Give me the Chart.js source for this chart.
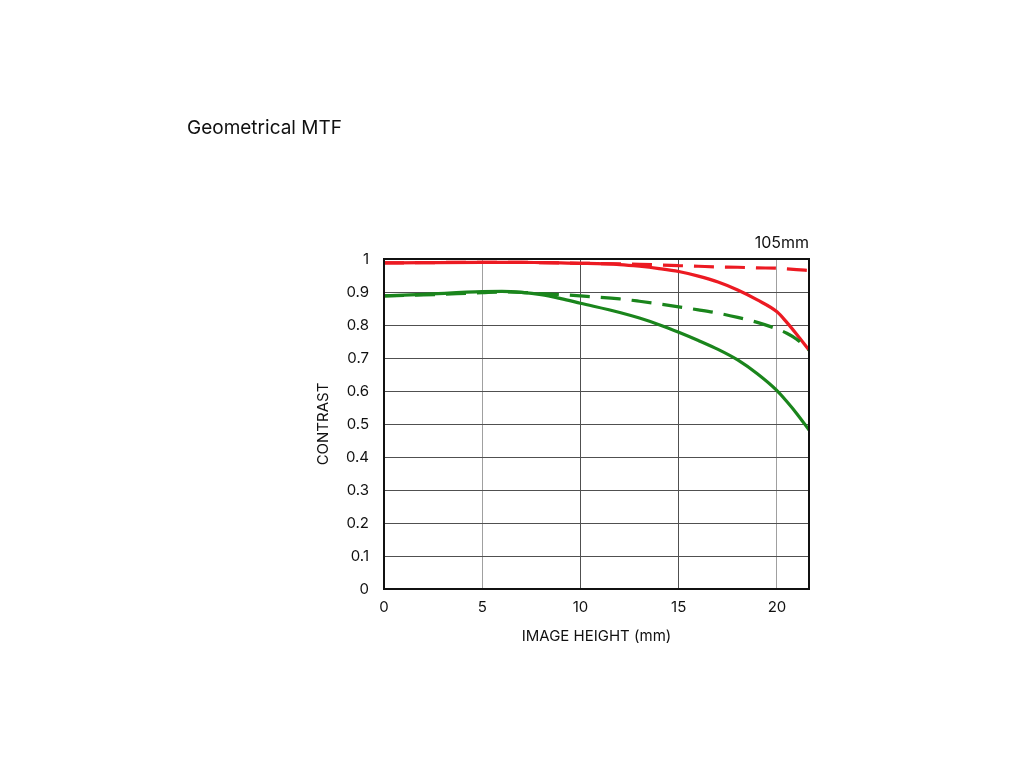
<!DOCTYPE html>
<html>
<head>
<meta charset="utf-8">
<script src="https://cdn.jsdelivr.net/npm/chart.js@4/dist/chart.umd.min.js"></script>
<style>
  html, body { margin: 0; padding: 0; background: #fff; }
  #wrap { width: 1024px; height: 768px; position: relative; }
</style>
</head>
<body>
<div id="wrap"><canvas id="mtf" width="1024" height="768"></canvas></div>
<script>
/* ── DATA ─────────────────────────────────────────────────── */
const imageHeight = [0, 2, 5, 6, 7, 8, 9, 10, 12, 13, 14, 15, 16, 17, 18, 19, 20, 20.5, 21, 21.63];

// 10 lp/mm (red) and 30 lp/mm (green), sagittal solid / meridional dashed
const red10Sag = [0.988, 0.989, 0.990, 0.990, 0.990, 0.989, 0.988, 0.987, 0.983, 0.978, 0.971, 0.962, 0.948, 0.930, 0.906, 0.876, 0.840, 0.808, 0.772, 0.724];
const red10Mer = [0.988, 0.989, 0.990, 0.990, 0.990, 0.989, 0.988, 0.987, 0.985, 0.984, 0.982, 0.980, 0.978, 0.976, 0.975, 0.973, 0.972, 0.970, 0.968, 0.965];
const grn30Sag = [0.888, 0.893, 0.901, 0.902, 0.899, 0.892, 0.880, 0.866, 0.838, 0.821, 0.801, 0.778, 0.753, 0.726, 0.694, 0.652, 0.601, 0.568, 0.532, 0.482];
const grn30Mer = [0.888, 0.891, 0.898, 0.900, 0.899, 0.895, 0.892, 0.888, 0.879, 0.872, 0.864, 0.855, 0.846, 0.836, 0.823, 0.808, 0.788, 0.775, 0.757, 0.724];

const xTicks = [0, 5, 10, 15, 20];
const yTicks = [0, 0.1, 0.2, 0.3, 0.4, 0.5, 0.6, 0.7, 0.8, 0.9, 1];

const RED = '#ec1a22';
const GREEN = '#1a851c';
const FONT = 'Inter, "Liberation Sans", sans-serif';

function series(ys) {
  return imageHeight.map((x, i) => ({ x, y: ys[i] }));
}

/* ── PLUGINS ──────────────────────────────────────────────── */
const frameAndLabels = {
  id: 'frameAndLabels',
  afterDraw(chart) {
    const { ctx, chartArea: a } = chart;
    ctx.save();
    ctx.strokeStyle = '#111';
    ctx.lineWidth = 2;
    ctx.strokeRect(a.left, a.top, a.right - a.left, a.bottom - a.top);

    ctx.fillStyle = '#111';
    ctx.font = '16px ' + FONT;
    ctx.textAlign = 'right';
    ctx.textBaseline = 'alphabetic';
    ctx.fillText('105mm', a.right, a.top - 11);

    ctx.font = '19px ' + FONT;
    ctx.textAlign = 'left';
    ctx.fillText('Geometrical MTF', 187, 134);
    ctx.restore();
  }
};

/* ── CHART ────────────────────────────────────────────────── */
new Chart(document.getElementById('mtf'), {
  type: 'line',
  data: {
    datasets: [
      { data: series(grn30Mer), borderColor: GREEN, borderDash: [20, 11] },
      { data: series(grn30Sag), borderColor: GREEN },
      { data: series(red10Mer), borderColor: RED, borderDash: [20, 11] },
      { data: series(red10Sag), borderColor: RED }
    ].map(d => ({ ...d, borderWidth: 3.2, pointRadius: 0, cubicInterpolationMode: 'monotone', fill: false }))
  },
  options: {
    responsive: false,
    animation: false,
    layout: { padding: { left: 310, right: 215, top: 259, bottom: 119 } },
    plugins: { legend: { display: false }, tooltip: { enabled: false } },
    scales: {
      x: {
        type: 'linear',
        min: 0,
        max: 21.63,
        afterBuildTicks: s => { s.ticks = xTicks.map(v => ({ value: v })); },
        afterFit: s => { s.height = 60; },
        grid: {
          color: c => (c.tick && (c.tick.value === 5 || c.tick.value === 20)) ? '#a0a0a0' : '#505050',
          lineWidth: 1,
          drawTicks: false
        },
        border: { display: false },
        ticks: { color: '#111', font: { family: FONT, size: 15 }, padding: 9, maxRotation: 0 },
        title: { display: true, text: 'IMAGE HEIGHT (mm)', color: '#111', font: { family: FONT, size: 15 }, padding: { top: 4 } }
      },
      y: {
        min: 0,
        max: 1,
        afterBuildTicks: s => { s.ticks = yTicks.map(v => ({ value: v })); },
        afterFit: s => { s.width = 74; },
        grid: { color: '#505050', lineWidth: 1, drawTicks: false },
        border: { display: false },
        ticks: {
          color: '#111',
          font: { family: FONT, size: 15 },
          padding: 15,
          callback: v => String(Math.round(v * 10) / 10)
        },
        title: { display: true, text: 'CONTRAST', color: '#111', font: { family: FONT, size: 15 }, padding: { top: 4, bottom: 4 } }
      }
    }
  },
  plugins: [frameAndLabels]
});
</script>
</body>
</html>
